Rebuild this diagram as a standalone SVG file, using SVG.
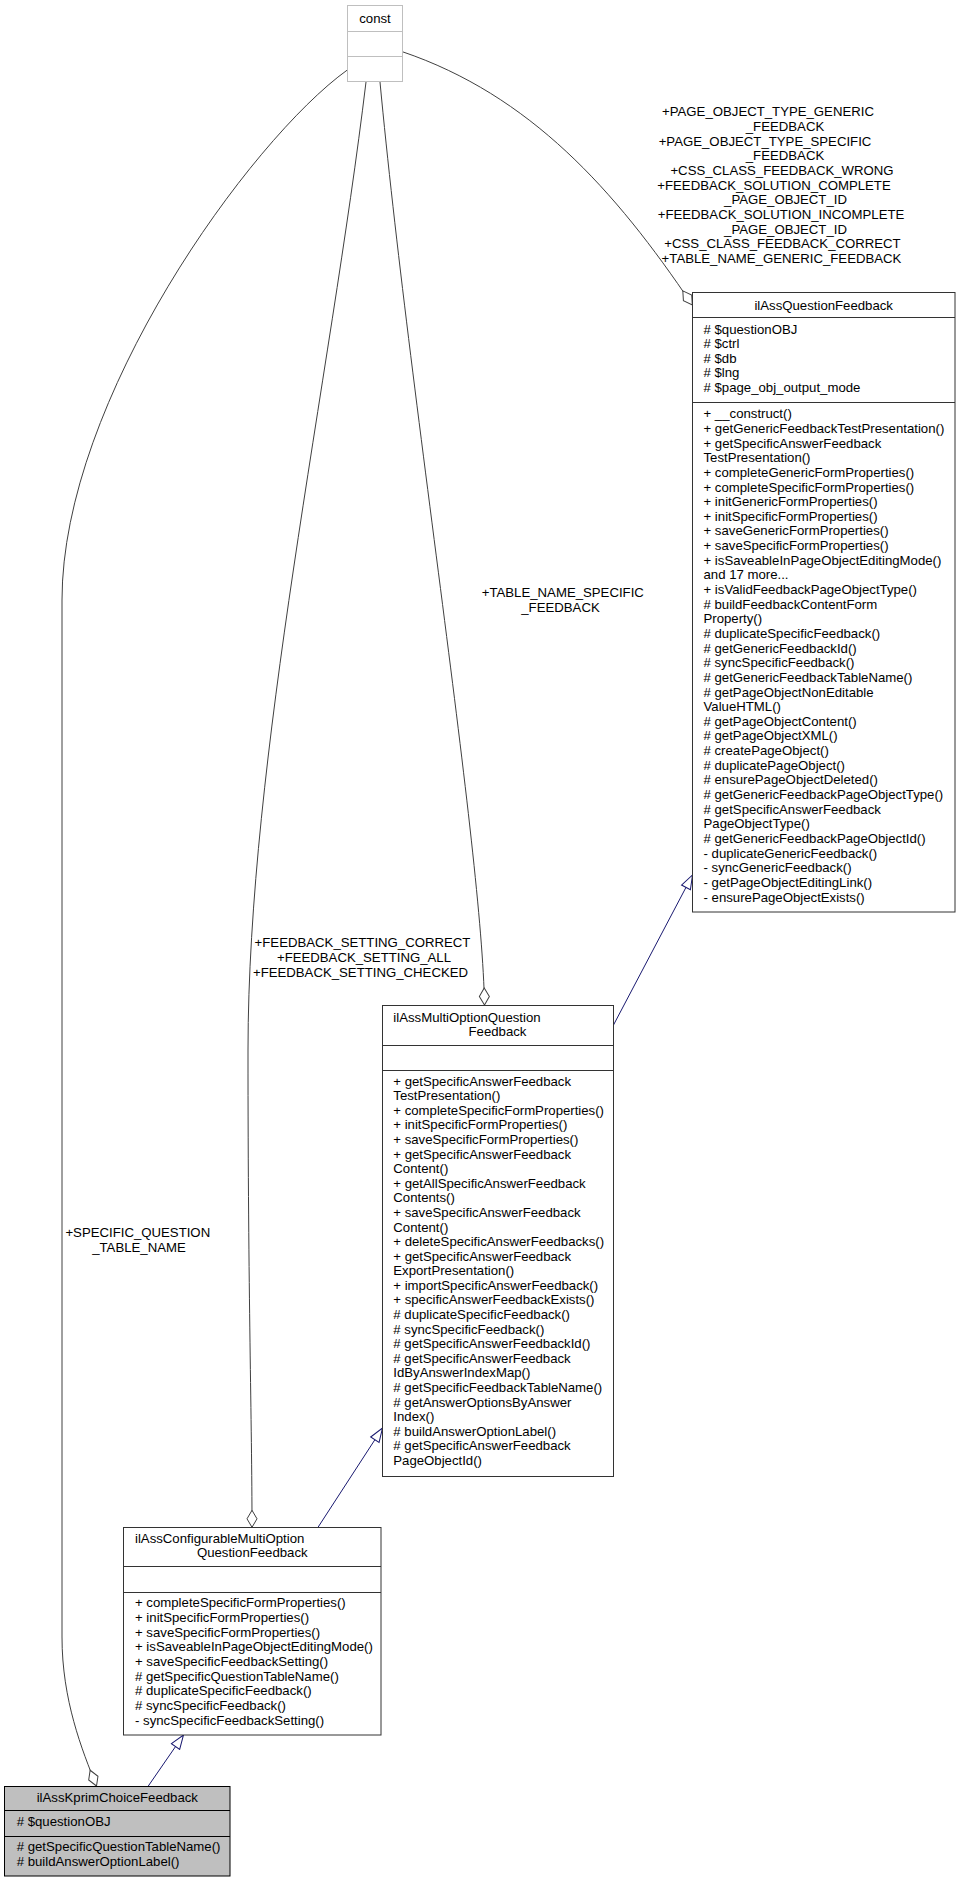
<svg xmlns="http://www.w3.org/2000/svg" width="959" height="1883" viewBox="0 0 959 1883">
<style>
  text { font-family: "Liberation Sans", Arial, Helvetica, sans-serif; font-size: 13.2px; fill: #000; }
  .c { text-anchor: middle; }
  .box { fill: #fff; stroke: #333; stroke-width: 1; }
  .ext { fill: #fff; stroke: #bfbfbf; stroke-width: 1; }
  .hl { fill: #bfbfbf; stroke: #000; stroke-width: 1; }
  .div { stroke: #333; stroke-width: 1; }
  .divx { stroke: #bfbfbf; stroke-width: 1; }
  .divh { stroke: #000; stroke-width: 1; }
  .use { fill: none; stroke: #404040; stroke-width: 1; marker-end: url(#odiamond); }
  .inh { fill: none; stroke: #191970; stroke-width: 1; marker-end: url(#otri); }
</style>
<defs>
  <marker id="odiamond" markerUnits="userSpaceOnUse" viewBox="-1 -7 20 14" markerWidth="20" markerHeight="14" refX="17" refY="0" orient="auto">
    <path d="M0,0 L8.5,-5 L17,0 L8.5,5 Z" fill="#fff" stroke="#404040" stroke-width="1"/>
  </marker>
  <marker id="otri" markerUnits="userSpaceOnUse" viewBox="-1 -7 16 14" markerWidth="16" markerHeight="14" refX="14" refY="0" orient="auto">
    <path d="M0,-5 L14,0 L0,5 Z" fill="#fff" stroke="#191970" stroke-width="1"/>
  </marker>
</defs>

<g id="connectors">
  <path id="e-const-qf" class="use" d="M402.3,51.7 C530,95 615,190 692.3,305"/>
  <path id="e-const-mo" class="use" d="M380,82 C410,400 482,850 484.5,1005"/>
  <path id="e-const-cfg" class="use" d="M366,82 C330,380 248,760 248,1050 C248,1300 252,1420 252,1527.3"/>
  <path id="e-const-kprim" class="use" d="M347.3,70 C250,140 62,400 62,600 L62,1637 C62,1700 82,1750 96.5,1786"/>
  <path id="e-mo-qf" class="inh" d="M613.5,1025 L692.5,875"/>
  <path id="e-cfg-mo" class="inh" d="M318,1527.3 L382.5,1428"/>
  <path id="e-kprim-cfg" class="inh" d="M148.3,1786 L183.5,1735"/>
  <g id="labels">
    <text class="c" x="768" y="116.3">+PAGE_OBJECT_TYPE_GENERIC</text>
    <text class="c" x="785" y="131">_FEEDBACK</text>
    <text class="c" x="765" y="145.6">+PAGE_OBJECT_TYPE_SPECIFIC</text>
    <text class="c" x="785" y="160.3">_FEEDBACK</text>
    <text class="c" x="782" y="174.9">+CSS_CLASS_FEEDBACK_WRONG</text>
    <text class="c" x="774" y="189.6">+FEEDBACK_SOLUTION_COMPLETE</text>
    <text class="c" x="785.5" y="204.3">_PAGE_OBJECT_ID</text>
    <text class="c" x="781" y="218.9">+FEEDBACK_SOLUTION_INCOMPLETE</text>
    <text class="c" x="785.5" y="233.6">_PAGE_OBJECT_ID</text>
    <text class="c" x="782.5" y="248.2">+CSS_CLASS_FEEDBACK_CORRECT</text>
    <text class="c" x="781.5" y="262.9">+TABLE_NAME_GENERIC_FEEDBACK</text>

    <text class="c" x="562.8" y="597">+TABLE_NAME_SPECIFIC</text>
    <text class="c" x="560.5" y="611.6">_FEEDBACK</text>

    <text class="c" x="362.5" y="947.3">+FEEDBACK_SETTING_CORRECT</text>
    <text class="c" x="364" y="961.9">+FEEDBACK_SETTING_ALL</text>
    <text class="c" x="360.5" y="976.5">+FEEDBACK_SETTING_CHECKED</text>

    <text class="c" x="137.8" y="1237.3">+SPECIFIC_QUESTION</text>
    <text class="c" x="139" y="1251.9">_TABLE_NAME</text>
  </g>
</g>

<g id="node-const">
  <rect class="ext" x="347.5" y="5.5" width="55" height="76"/>
  <line class="divx" x1="347.5" y1="31.5" x2="402.5" y2="31.5"/>
  <line class="divx" x1="347.5" y1="56.5" x2="402.5" y2="56.5"/>
  <text class="c" x="375" y="22.5">const</text>
</g>

<g id="node-ilAssQuestionFeedback">
  <rect class="box" x="692.5" y="292.5" width="262.5" height="619.5"/>
  <line class="div" x1="692.5" y1="317.5" x2="955" y2="317.5"/>
  <line class="div" x1="692.5" y1="402.5" x2="955" y2="402.5"/>
  <text class="c" x="823.7" y="310">ilAssQuestionFeedback</text>
  <text x="703.5" y="333.5">
    <tspan x="703.5" dy="0"># $questionOBJ</tspan>
    <tspan x="703.5" dy="14.53"># $ctrl</tspan>
    <tspan x="703.5" dy="14.53"># $db</tspan>
    <tspan x="703.5" dy="14.53"># $lng</tspan>
    <tspan x="703.5" dy="14.53"># $page_obj_output_mode</tspan>
  </text>
  <text x="703.5" y="418.3">
    <tspan x="703.5" dy="0">+ __construct()</tspan>
    <tspan x="703.5" dy="14.645">+ getGenericFeedbackTestPresentation()</tspan>
    <tspan x="703.5" dy="14.645">+ getSpecificAnswerFeedback</tspan>
    <tspan x="703.5" dy="14.645">TestPresentation()</tspan>
    <tspan x="703.5" dy="14.645">+ completeGenericFormProperties()</tspan>
    <tspan x="703.5" dy="14.645">+ completeSpecificFormProperties()</tspan>
    <tspan x="703.5" dy="14.645">+ initGenericFormProperties()</tspan>
    <tspan x="703.5" dy="14.645">+ initSpecificFormProperties()</tspan>
    <tspan x="703.5" dy="14.645">+ saveGenericFormProperties()</tspan>
    <tspan x="703.5" dy="14.645">+ saveSpecificFormProperties()</tspan>
    <tspan x="703.5" dy="14.645">+ isSaveableInPageObjectEditingMode()</tspan>
    <tspan x="703.5" dy="14.645">and 17 more...</tspan>
    <tspan x="703.5" dy="14.645">+ isValidFeedbackPageObjectType()</tspan>
    <tspan x="703.5" dy="14.645"># buildFeedbackContentForm</tspan>
    <tspan x="703.5" dy="14.645">Property()</tspan>
    <tspan x="703.5" dy="14.645"># duplicateSpecificFeedback()</tspan>
    <tspan x="703.5" dy="14.645"># getGenericFeedbackId()</tspan>
    <tspan x="703.5" dy="14.645"># syncSpecificFeedback()</tspan>
    <tspan x="703.5" dy="14.645"># getGenericFeedbackTableName()</tspan>
    <tspan x="703.5" dy="14.645"># getPageObjectNonEditable</tspan>
    <tspan x="703.5" dy="14.645">ValueHTML()</tspan>
    <tspan x="703.5" dy="14.645"># getPageObjectContent()</tspan>
    <tspan x="703.5" dy="14.645"># getPageObjectXML()</tspan>
    <tspan x="703.5" dy="14.645"># createPageObject()</tspan>
    <tspan x="703.5" dy="14.645"># duplicatePageObject()</tspan>
    <tspan x="703.5" dy="14.645"># ensurePageObjectDeleted()</tspan>
    <tspan x="703.5" dy="14.645"># getGenericFeedbackPageObjectType()</tspan>
    <tspan x="703.5" dy="14.645"># getSpecificAnswerFeedback</tspan>
    <tspan x="703.5" dy="14.645">PageObjectType()</tspan>
    <tspan x="703.5" dy="14.645"># getGenericFeedbackPageObjectId()</tspan>
    <tspan x="703.5" dy="14.645">- duplicateGenericFeedback()</tspan>
    <tspan x="703.5" dy="14.645">- syncGenericFeedback()</tspan>
    <tspan x="703.5" dy="14.645">- getPageObjectEditingLink()</tspan>
    <tspan x="703.5" dy="14.645">- ensurePageObjectExists()</tspan>
  </text>
</g>

<g id="node-ilAssMultiOptionQuestionFeedback">
  <rect class="box" x="382.5" y="1005.5" width="231" height="471"/>
  <line class="div" x1="382.5" y1="1045.5" x2="613.5" y2="1045.5"/>
  <line class="div" x1="382.5" y1="1070.5" x2="613.5" y2="1070.5"/>
  <text x="393.3" y="1021.5">ilAssMultiOptionQuestion</text>
  <text class="c" x="497.5" y="1036.1">Feedback</text>
  <text x="393.3" y="1085.6">
    <tspan x="393.3" dy="0">+ getSpecificAnswerFeedback</tspan>
    <tspan x="393.3" dy="14.59">TestPresentation()</tspan>
    <tspan x="393.3" dy="14.59">+ completeSpecificFormProperties()</tspan>
    <tspan x="393.3" dy="14.59">+ initSpecificFormProperties()</tspan>
    <tspan x="393.3" dy="14.59">+ saveSpecificFormProperties()</tspan>
    <tspan x="393.3" dy="14.59">+ getSpecificAnswerFeedback</tspan>
    <tspan x="393.3" dy="14.59">Content()</tspan>
    <tspan x="393.3" dy="14.59">+ getAllSpecificAnswerFeedback</tspan>
    <tspan x="393.3" dy="14.59">Contents()</tspan>
    <tspan x="393.3" dy="14.59">+ saveSpecificAnswerFeedback</tspan>
    <tspan x="393.3" dy="14.59">Content()</tspan>
    <tspan x="393.3" dy="14.59">+ deleteSpecificAnswerFeedbacks()</tspan>
    <tspan x="393.3" dy="14.59">+ getSpecificAnswerFeedback</tspan>
    <tspan x="393.3" dy="14.59">ExportPresentation()</tspan>
    <tspan x="393.3" dy="14.59">+ importSpecificAnswerFeedback()</tspan>
    <tspan x="393.3" dy="14.59">+ specificAnswerFeedbackExists()</tspan>
    <tspan x="393.3" dy="14.59"># duplicateSpecificFeedback()</tspan>
    <tspan x="393.3" dy="14.59"># syncSpecificFeedback()</tspan>
    <tspan x="393.3" dy="14.59"># getSpecificAnswerFeedbackId()</tspan>
    <tspan x="393.3" dy="14.59"># getSpecificAnswerFeedback</tspan>
    <tspan x="393.3" dy="14.59">IdByAnswerIndexMap()</tspan>
    <tspan x="393.3" dy="14.59"># getSpecificFeedbackTableName()</tspan>
    <tspan x="393.3" dy="14.59"># getAnswerOptionsByAnswer</tspan>
    <tspan x="393.3" dy="14.59">Index()</tspan>
    <tspan x="393.3" dy="14.59"># buildAnswerOptionLabel()</tspan>
    <tspan x="393.3" dy="14.59"># getSpecificAnswerFeedback</tspan>
    <tspan x="393.3" dy="14.59">PageObjectId()</tspan>
  </text>
</g>

<g id="node-ilAssConfigurableMultiOptionQuestionFeedback">
  <rect class="box" x="123.5" y="1527.5" width="257.5" height="207.5"/>
  <line class="div" x1="123.5" y1="1566.5" x2="381" y2="1566.5"/>
  <line class="div" x1="123.5" y1="1592.5" x2="381" y2="1592.5"/>
  <text x="135" y="1542.5">ilAssConfigurableMultiOption</text>
  <text class="c" x="252.3" y="1557.1">QuestionFeedback</text>
  <text x="135" y="1607.3">
    <tspan x="135" dy="0">+ completeSpecificFormProperties()</tspan>
    <tspan x="135" dy="14.65">+ initSpecificFormProperties()</tspan>
    <tspan x="135" dy="14.65">+ saveSpecificFormProperties()</tspan>
    <tspan x="135" dy="14.65">+ isSaveableInPageObjectEditingMode()</tspan>
    <tspan x="135" dy="14.65">+ saveSpecificFeedbackSetting()</tspan>
    <tspan x="135" dy="14.65"># getSpecificQuestionTableName()</tspan>
    <tspan x="135" dy="14.65"># duplicateSpecificFeedback()</tspan>
    <tspan x="135" dy="14.65"># syncSpecificFeedback()</tspan>
    <tspan x="135" dy="14.65">- syncSpecificFeedbackSetting()</tspan>
  </text>
</g>

<g id="node-ilAssKprimChoiceFeedback">
  <rect class="hl" x="4.5" y="1786.5" width="225.5" height="89.5"/>
  <line class="divh" x1="4.5" y1="1810.5" x2="230" y2="1810.5"/>
  <line class="divh" x1="4.5" y1="1836.5" x2="230" y2="1836.5"/>
  <text class="c" x="117.3" y="1801.5">ilAssKprimChoiceFeedback</text>
  <text x="16.7" y="1826.3"># $questionOBJ</text>
  <text x="16.7" y="1851.3"># getSpecificQuestionTableName()</text>
  <text x="16.7" y="1866"># buildAnswerOptionLabel()</text>
</g>
</svg>
